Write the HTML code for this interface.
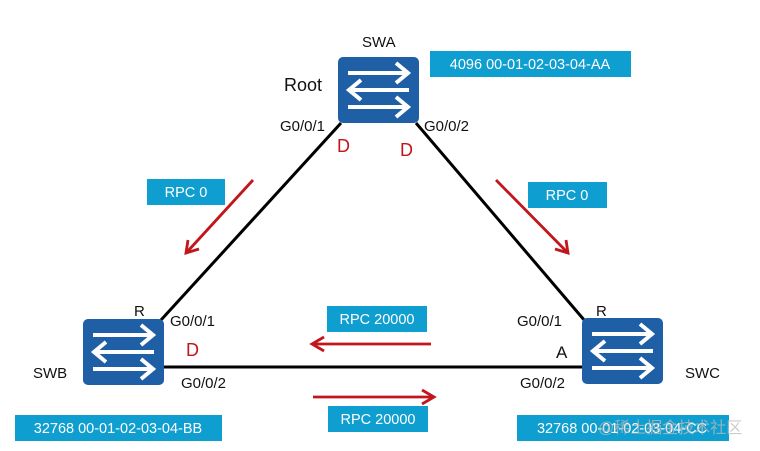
<!DOCTYPE html>
<html><head><meta charset="utf-8"><style>
html,body{margin:0;padding:0;background:#fff;width:760px;height:451px;overflow:hidden}
svg{display:block}
text{font-family:"Liberation Sans","Noto Sans CJK SC",sans-serif}
</style></head><body>
<svg width="760" height="451" viewBox="0 0 760 451" xmlns="http://www.w3.org/2000/svg">
<defs>
<g id="sw">
<rect x="0" y="0" width="81" height="66" rx="5" fill="#1f5fa6"/>
<g stroke="#fff" stroke-width="4" fill="none" stroke-linecap="butt">
<line x1="10" y1="16" x2="68" y2="16"/><polyline points="58,6 70,16 58,26"/>
<line x1="71" y1="33" x2="13" y2="33"/><polyline points="23,23 11,33 23,43"/>
<line x1="10" y1="50" x2="68" y2="50"/><polyline points="58,40 70,50 58,60"/>
</g>
</g>
</defs>
<g stroke="#000" stroke-width="3">
<line x1="341" y1="123" x2="161" y2="320"/>
<line x1="416" y1="123" x2="585" y2="321"/>
<line x1="163" y1="367" x2="583" y2="367"/>
</g>
<use href="#sw" x="338" y="57"/>
<use href="#sw" x="83" y="319"/>
<use href="#sw" x="582" y="318"/>
<g fill="#0f9ed0">
<rect x="430" y="51" width="201" height="26"/>
<rect x="15" y="415" width="207" height="26"/>
<rect x="517" y="415" width="212" height="26"/>
<rect x="147" y="179" width="78" height="26"/>
<rect x="528" y="182" width="79" height="26"/>
<rect x="327" y="306" width="100" height="26"/>
<rect x="328" y="406" width="100" height="26"/>
</g>
<g fill="#fff" font-size="14.5" text-anchor="middle">
<text x="530" y="69">4096 00-01-02-03-04-AA</text>
<text x="118" y="433">32768 00-01-02-03-04-BB</text>
<text x="622" y="433">32768 00-01-02-03-04-CC</text>
<text x="186" y="197">RPC 0</text>
<text x="567" y="200">RPC 0</text>
<text x="377" y="324">RPC 20000</text>
<text x="378" y="424">RPC 20000</text>
</g>
<g stroke="#c0161c" stroke-width="2.8" fill="none">
<line x1="253" y1="180" x2="187" y2="252"/><polyline points="188,240 186,253 199,249"/>
<line x1="496" y1="180" x2="567" y2="252"/><polyline points="555,249 568,253 566,240"/>
<line x1="431" y1="344" x2="313" y2="344"/><polyline points="324,337 312,344 324,351"/>
<line x1="313" y1="397" x2="433" y2="397"/><polyline points="422,390 434,397 422,404"/>
</g>
<g fill="#111" font-size="15">
<text x="362" y="47">SWA</text>
<text x="284" y="91" font-size="18">Root</text>
<text x="280" y="131">G0/0/1</text>
<text x="424" y="131">G0/0/2</text>
<text x="134" y="316">R</text>
<text x="170" y="326">G0/0/1</text>
<text x="33" y="378">SWB</text>
<text x="181" y="388">G0/0/2</text>
<text x="596" y="316">R</text>
<text x="517" y="326">G0/0/1</text>
<text x="556" y="358" font-size="17">A</text>
<text x="520" y="388">G0/0/2</text>
<text x="685" y="378">SWC</text>
</g>
<g fill="#c0161c" font-size="18">
<text x="337" y="152">D</text>
<text x="400" y="156">D</text>
<text x="186" y="356">D</text>
</g>
<text x="598" y="433" fill="#bbb" fill-opacity="0.75" font-size="16">@稀土掘金技术社区</text>
</svg>
</body></html>
